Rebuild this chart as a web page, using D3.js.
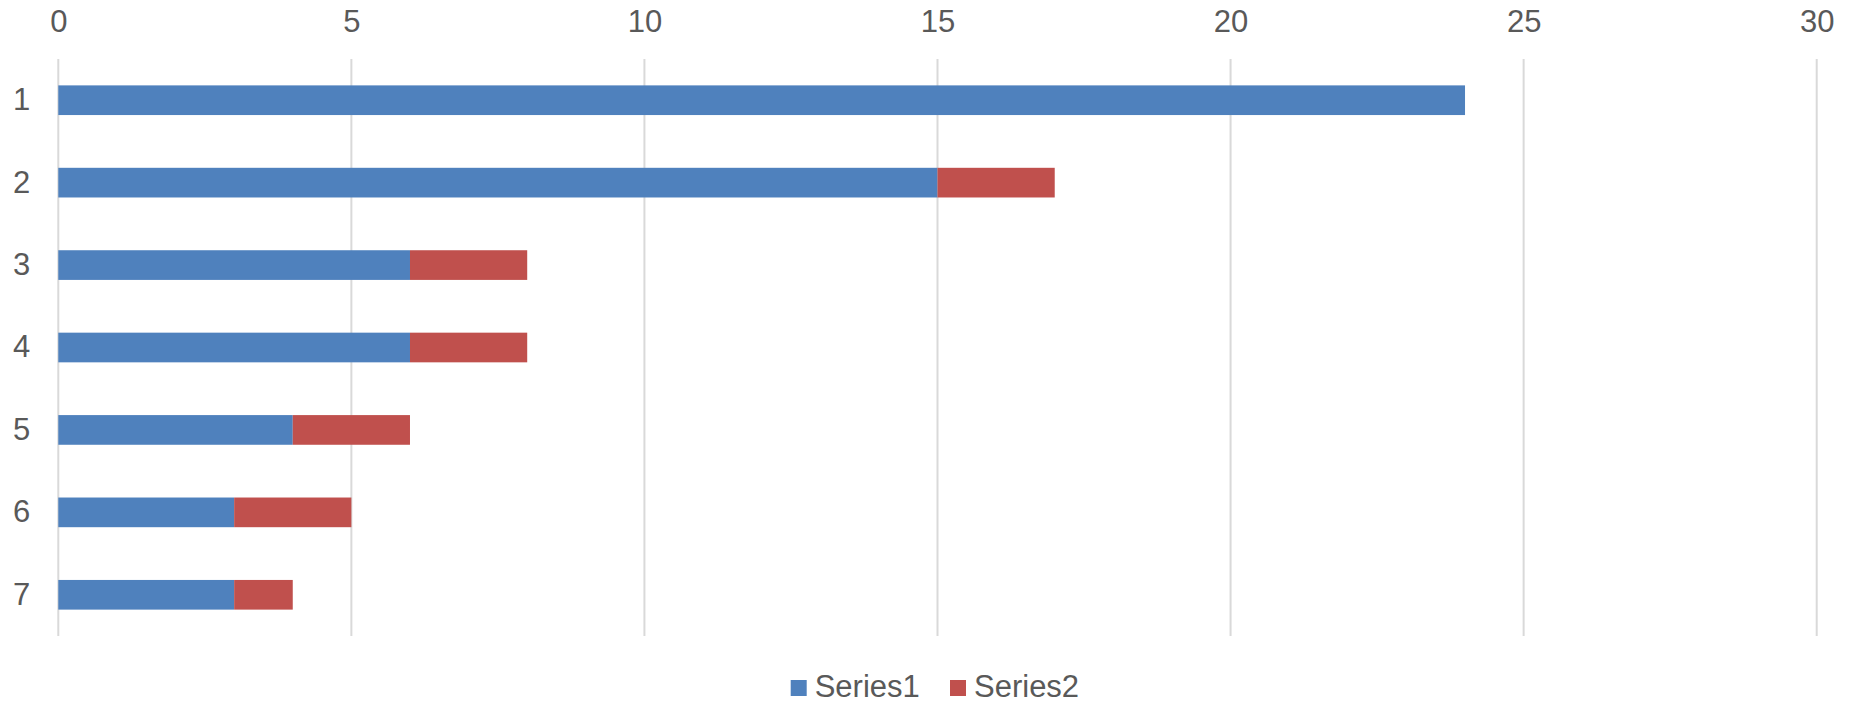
<!DOCTYPE html>
<html><head><meta charset="utf-8">
<script src="https://cdn.jsdelivr.net/npm/d3@7"></script>
<style>body{margin:0;background:#fff}svg{display:block}</style>
</head><body>
<script>
const categories = ["1","2","3","4","5","6","7"];
const series1 = [24,15,6,6,4,3,3];
const series2 = [0,2,2,2,2,2,1];
const seriesNames = ["Series1","Series2"];
const colors = ["#4F81BD","#C0504D"];
const xTicks = [0,5,10,15,20,25,30];

(function(){
const W=1852,H=705;
const svg=d3.select("body").append("svg").attr("width",W).attr("height",H);
const pL=58.3,pR=1816.7,pT=59,pB=636;
const x=d3.scaleLinear().domain([0,30]).range([pL,pR]);
const y=d3.scaleBand().domain(categories).range([pT,pB]).paddingInner(0.64).paddingOuter(0.32);
const font="'Liberation Sans', Arial, sans-serif";
const txt="#595959";

svg.append("g").selectAll("line").data(xTicks).join("line")
  .attr("x1",d=>x(d)).attr("x2",d=>x(d)).attr("y1",pT).attr("y2",pB)
  .attr("stroke","#D9D9D9").attr("stroke-width",2);

const xa=svg.append("g").attr("transform",`translate(0,${pT})`)
  .call(d3.axisTop(x).tickValues(xTicks).tickSize(0).tickPadding(27).tickFormat(d3.format("d")));
xa.select(".domain").remove();
xa.selectAll("text").attr("font-family",font).attr("font-size",31).attr("fill",txt);

const ya=svg.append("g").attr("transform",`translate(${pL},0)`)
  .call(d3.axisLeft(y).tickSize(0).tickPadding(28));
ya.select(".domain").remove();
ya.selectAll("text").attr("font-family",font).attr("font-size",31).attr("fill",txt);

const data=categories.map((c,i)=>({cat:c,s1:series1[i],s2:series2[i]}));
const stack=d3.stack().keys(["s1","s2"])(data);
svg.append("g").selectAll("g").data(stack).join("g").attr("fill",(d,i)=>colors[i])
  .selectAll("rect").data(d=>d).join("rect")
  .attr("x",d=>x(d[0])).attr("width",d=>x(d[1])-x(d[0]))
  .attr("y",d=>y(d.data.cat)).attr("height",y.bandwidth());

const lg=svg.append("g");
const lx=[790.7,950];
seriesNames.forEach((n,i)=>{
  lg.append("rect").attr("x",lx[i]).attr("y",680).attr("width",16).attr("height",16).attr("fill",colors[i]);
  lg.append("text").attr("x",lx[i]+24).attr("y",697).text(n)
    .attr("font-family",font).attr("font-size",31).attr("fill",txt);
});
})();
</script>
</body></html>
